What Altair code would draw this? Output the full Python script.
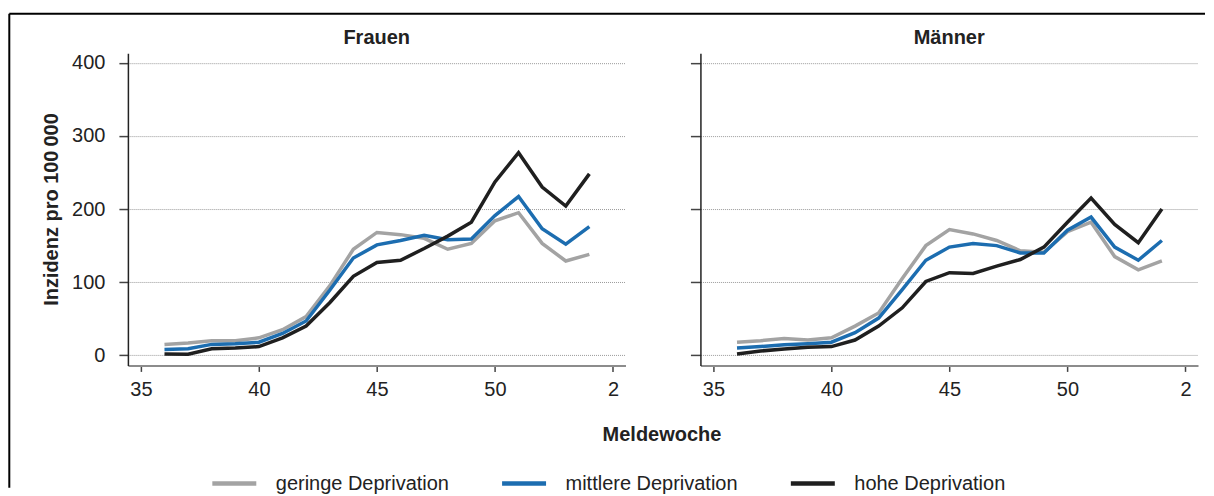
import altair as alt
import pandas as pd

# ---- data ----
positions = list(range(36, 55))                      # running week index (53 weeks in 2020)
meldewochen = [36, 37, 38, 39, 40, 41, 42, 43, 44, 45, 46, 47, 48, 49, 50, 51, 52, 53, 1]
gruppen = ["geringe Deprivation", "mittlere Deprivation", "hohe Deprivation"]
farben = ["#a3a3a3", "#1c6db0", "#1f1f1f"]

frauen_gering = [15, 17, 20, 20, 24, 35, 53, 95, 145, 168, 165, 160, 145, 153, 184, 195, 153, 129, 138]
frauen_mittel = [8, 9, 15, 16, 18, 30, 47, 89, 133, 151, 157, 164, 158, 159, 191, 217, 173, 152, 176]
frauen_hoch = [2, 1.5, 9, 10, 12, 24, 40, 72, 108, 127, 130, 146, 163, 182, 237, 277, 230, 204, 248]

maenner_gering = [18, 20, 23, 21, 24, 40, 58, 105, 150, 172, 166, 157, 143, 141, 169, 182, 135, 117, 129]
maenner_mittel = [10, 12, 14.5, 16, 18, 31, 51, 90, 130, 148, 153, 150, 140, 140, 171, 189, 148, 130, 157]
maenner_hoch = [2, 6, 8.6, 11, 12, 21, 40, 65, 101, 113, 112, 122, 131, 148, 182, 215, 179, 154, 200]

x_ticks = [35, 40, 45, 50, 55]
y_ticks = [0, 100, 200, 300, 400]

FONT = "Liberation Sans"
FS = 20

rows = []
for sex, vals in [("Frauen", [frauen_gering, frauen_mittel, frauen_hoch]),
                  ("Männer", [maenner_gering, maenner_mittel, maenner_hoch])]:
    for g, series in zip(gruppen, vals):
        for p, w, v in zip(positions, meldewochen, series):
            rows.append({"geschlecht": sex, "gruppe": g, "pos": p, "woche": w, "inzidenz": v})
df = pd.DataFrame(rows)

x_scale = alt.Scale(domain=[34.45, 55.53], nice=False, zero=False)
y_scale = alt.Scale(domain=[-13.7, 413], nice=False, zero=False)
color_scale = alt.Scale(domain=gruppen, range=farben)

PANEL_W = 498
GAP = 75
FRAME_W = 1
LEFT0 = FRAME_W + GAP   # x of the left plot inside the layout


def panel(sex, left):
    d = df[df.geschlecht == sex]
    x_axis = alt.Axis(
        values=x_ticks,
        labelExpr="datum.value > 53 ? datum.value - 53 : datum.value",
        grid=False, tickSize=6, tickWidth=1.5, tickColor="#444",
        domainColor="#8c8c8c", domainWidth=2,
        labelFont=FONT, labelFontSize=FS, labelColor="#222", labelPadding=8,
        title="Meldewoche" if left else None,
        titleFont=FONT, titleFontSize=FS, titleFontWeight="bold", titleColor="#222",
        titleX=534, titleY=75, titleBaseline="alphabetic", titleAlign="center",
    )
    if left:
        y_axis = alt.Axis(
            values=y_ticks, grid=True, gridColor="#9a9a9a", gridDash=[1, 1], gridWidth=1,
            tickSize=9, tickWidth=1.5, tickColor="#444",
            domainColor="#222", domainWidth=1.5,
            labelFont=FONT, labelFontSize=FS, labelColor="#222", labelPadding=14,
            title="Inzidenz pro 100\u2009000",
            titleFont=FONT, titleFontSize=FS, titleFontWeight="bold", titleColor="#222",
            titleAngle=-90, titleX=-70, titleY=156, titleBaseline="alphabetic", titleAlign="center",
        )
        legend = alt.Legend(
            orient="none", legendX=210 - 128 + LEFT0, legendY=406, direction="horizontal", title=None,
            symbolType="stroke", symbolSize=1936, symbolStrokeWidth=4.5,
            labelFont=FONT, labelFontSize=FS, labelColor="#222", labelOffset=17,
            columnPadding=43, labelLimit=400,
        )
    else:
        y_axis = alt.Axis(
            values=y_ticks, grid=True, gridColor="#9a9a9a", gridDash=[1, 1], gridWidth=1,
            tickSize=10, tickWidth=1.5, tickColor="#444",
            domainColor="#222", domainWidth=1.5, labels=False, title=None,
        )
        legend = None

    lines = alt.Chart(d).mark_line(strokeWidth=3.5).encode(
        x=alt.X("pos:Q", scale=x_scale, axis=x_axis),
        y=alt.Y("inzidenz:Q", scale=y_scale, axis=y_axis),
        color=alt.Color("gruppe:N", scale=color_scale, legend=legend, sort=gruppen),
        detail="gruppe:N",
    )
    return lines.properties(
        width=PANEL_W, height=312.5,
        title=alt.TitleParams(sex, font=FONT, fontSize=FS, fontWeight="bold", color="#222",
                              anchor="middle", offset=5),
    )


# outer frame (only its left and top edges are visible in the reference)
one = pd.DataFrame({"a": [0]})
fx = 9.3 - 128 + LEFT0
vline = alt.Chart(one).mark_rule(color="black", strokeWidth=2).encode(
    x=alt.value(fx), y=alt.value(-39.5), y2=alt.value(435))
hline = alt.Chart(one).mark_rule(color="black", strokeWidth=2).encode(
    x=alt.value(fx), x2=alt.value(1206 - 128 + LEFT0), y=alt.value(-39.5))
frame = alt.layer(vline, hline).properties(width=FRAME_W, height=312.5)

chart = alt.hconcat(frame, panel("Frauen", True), panel("Männer", False),
                    spacing=GAP, bounds="flush").properties(
    padding={"left": 0, "top": 4, "right": 0, "bottom": 0},
    background="white",
).configure_view(stroke=None, strokeWidth=0)

chart.save("out.html", embed_options={"renderer": "svg", "actions": False})
